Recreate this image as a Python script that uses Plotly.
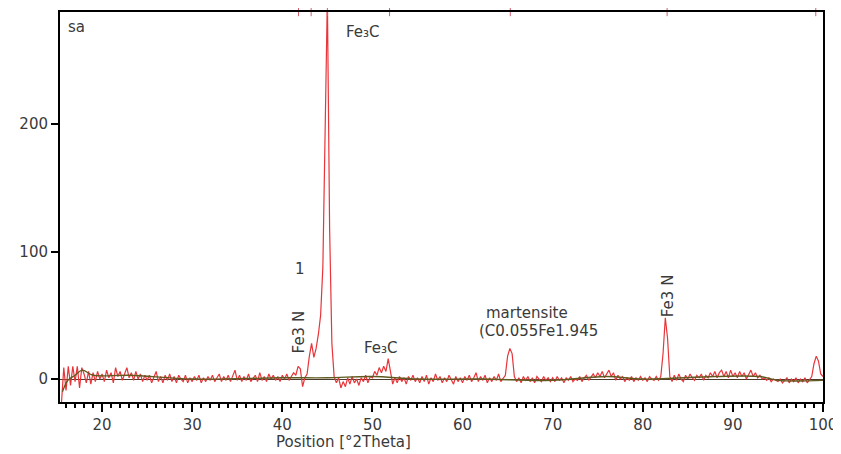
import numpy as np
import plotly.graph_objects as go

# 2-theta grid (step 0.25 deg)
two_theta = np.arange(15.5, 100.0001, 0.25)

counts = [
    # 15.5 - 19.75
    -18, 9, -9, 10, -5, 10, -2, 10, -7, 9, 4, -3, 6, -4, 5, -2, 6, 0,
    # 20 - 24.75
    4, -2, 7, 1, 5, -3, 9, 2, 6, -1, 4, 9, 1, 5, -1, 6, 0, 4, -2, 3,
    # 25 - 29.75
    -1, 3, -3, 2, 6, -2, 2, -3, 3, -1, 4, -2, 2, -3, 3, 0, -2, 3, -3, 1,
    # 30 - 34.75
    -2, 2, -1, 3, -3, 1, -2, 2, -1, 3, -2, 1, 4, -2, 2, -1, 3, -2, 2, 7,
    # 35 - 39.75
    -1, 3, -2, 2, -1, 4, -2, 1, 3, -2, 5, -1, 2, -2, 4, 0, 3, -1, 2, -2,
    # 40 - 44.75
    3, 0, 4, -1, 2, 5, 3, 10, 8, -6, 1, 4, 18, 28, 17, 24, 35, 50, 88, 212,
    # 45 - 49.75
    300, 118, 28, 2, -3, 1, -7, -2, -6, 1, -4, 2, -3, 0, -5, 1, -2, 3, -3, 2,
    # 50 - 54.75
    1, 6, 3, 9, 5, 10, 6, 16, 4, -4, 1, -3, 2, -2, 1, -4, 2, -1, 3, -2,
    # 55 - 59.75
    1, -3, 2, -2, 3, -4, 1, -2, 4, -1, 2, -3, 1, -2, 3, -1, -4, 2, -2, 1,
    # 60 - 64.75
    -3, 2, -1, 3, -2, 1, 5, -2, 2, -1, 3, -3, 1, -2, 2, -1, 4, -2, 1, 3,
    # 65 - 69.75
    18, 24, 20, 2, -2, 1, -3, 2, -1, 2, -2, 1, -3, 2, 0, -2, 2, -1, 1, -2,
    # 70 - 74.75
    1, -2, 2, -1, 1, -3, 1, -1, 2, -2, 0, -1, 2, -2, 1, 3, -1, 2, 4, 1,
    # 75 - 79.75
    5, 2, 6, 1, 4, 7, 2, 5, -1, 3, 0, 2, -2, 1, -1, 2, -2, 1, -1, 2,
    # 80 - 84.75
    -1, 1, -2, 2, 0, -1, 2, -1, 2, 20, 48, 32, 2, -2, 3, -1, 4, 0, -2, 3,
    # 85 - 89.75
    0, 4, 1, -1, 3, 1, 4, -1, 3, 1, 5, 2, 6, 1, 5, 7, 2, 6, 1, 7,
    # 90 - 94.75
    2, 5, 1, 6, 2, 5, 0, 4, 7, 2, 5, 1, 3, 0, 1, -1, 1, -2, 0, -1,
    # 95 - 100
    -2, 0, -3, -1, 1, -3, 0, -2, 1, -3, 0, -2, 1, -3, 0, 2, 12, 18, 14, 4, 2,
]

# fitted background knots
bg_theta = [15.6, 16.2, 17.0, 17.8, 19.0, 23.0, 30.0, 40.0, 45.0, 50.0, 55.0,
            62.0, 70.0, 76.0, 80.0, 88.0, 93.0, 95.0, 100.0]
bg_counts = [-10, -1, 3, 7, 3, 3, 0, 1, 1, 2, 0, 0, -1, 2, 0, 2, 2, -1, -1]

# reference pattern positions (top-axis markers)
ref_positions = [41.8, 43.2, 45.0, 51.9, 65.3, 82.7, 99.2]

x_ticks = [20, 30, 40, 50, 60, 70, 80, 90, 100]
y_ticks = [0, 100, 200]

FONT = "DejaVu Sans"
RED = "#e8353a"
OLIVE = "#5f5a1f"
TXT = "#3a3a3a"

fig = go.Figure()
fig.add_trace(go.Scatter(x=two_theta, y=counts, mode="lines",
                         line=dict(color=RED, width=1.2), showlegend=False))
fig.add_trace(go.Scatter(x=bg_theta, y=bg_counts, mode="lines",
                         line=dict(color=OLIVE, width=1.4, shape="spline"),
                         showlegend=False))
fig.add_trace(go.Scatter(x=ref_positions, y=[288] * len(ref_positions),
                         mode="markers", cliponaxis=False,
                         marker=dict(symbol="line-ns-open", size=6, color="#d0606e",
                                     line=dict(color="#d0606e", width=1)),
                         showlegend=False))

ann_font = dict(family=FONT, size=15, color=TXT)
annotations = [
    dict(x=0.008, y=0.99, xref="paper", yref="paper", text="sa",
         showarrow=False, xanchor="left", yanchor="top", font=ann_font),
    dict(x=48.9, y=272, text="Fe\u2083C", showarrow=False, font=ann_font),
    dict(x=42.0, y=86, text="1", showarrow=False, font=ann_font),
    dict(x=41.8, y=37, text="Fe3 N", textangle=-90, showarrow=False, font=ann_font),
    dict(x=51.0, y=24, text="Fe\u2083C", showarrow=False, font=ann_font),
    dict(x=67.2, y=52, text="martensite", showarrow=False, font=ann_font),
    dict(x=68.4, y=38, text="(C0.055Fe1.945", showarrow=False, font=ann_font),
    dict(x=82.8, y=65, text="Fe3 N", textangle=-90, showarrow=False, font=ann_font),
    dict(x=0.371, y=-0.102, xref="paper", yref="paper", text="Position [°2Theta]",
         showarrow=False, xanchor="center", yanchor="middle",
         font=dict(family=FONT, size=15, color=TXT)),
]

fig.update_layout(
    width=833, height=446,
    margin=dict(l=52, r=18, t=2, b=52),
    paper_bgcolor="white", plot_bgcolor="white",
    font=dict(family=FONT, size=15, color=TXT),
    annotations=annotations,
    xaxis=dict(range=[15.33, 100], tickvals=x_ticks, showgrid=False, zeroline=False,
               showline=True, linecolor="black", linewidth=2, mirror=True,
               ticks="outside", ticklen=8, tickwidth=1.5, tickcolor="black",
               minor=dict(dtick=1, ticks="outside", ticklen=4, tickcolor="black",
                          showgrid=False),
               tickfont=dict(family=FONT, size=15, color=TXT)),
    yaxis=dict(range=[-18, 288], tickvals=y_ticks, showgrid=False, zeroline=True,
               zerolinecolor="#4a3a2a", zerolinewidth=1,
               showline=True, linecolor="black", linewidth=2, mirror=True,
               ticks="outside", ticklen=7, tickwidth=1.5, tickcolor="black",
               tickfont=dict(family=FONT, size=15, color=TXT)),
)

fig.write_html("out.html")
